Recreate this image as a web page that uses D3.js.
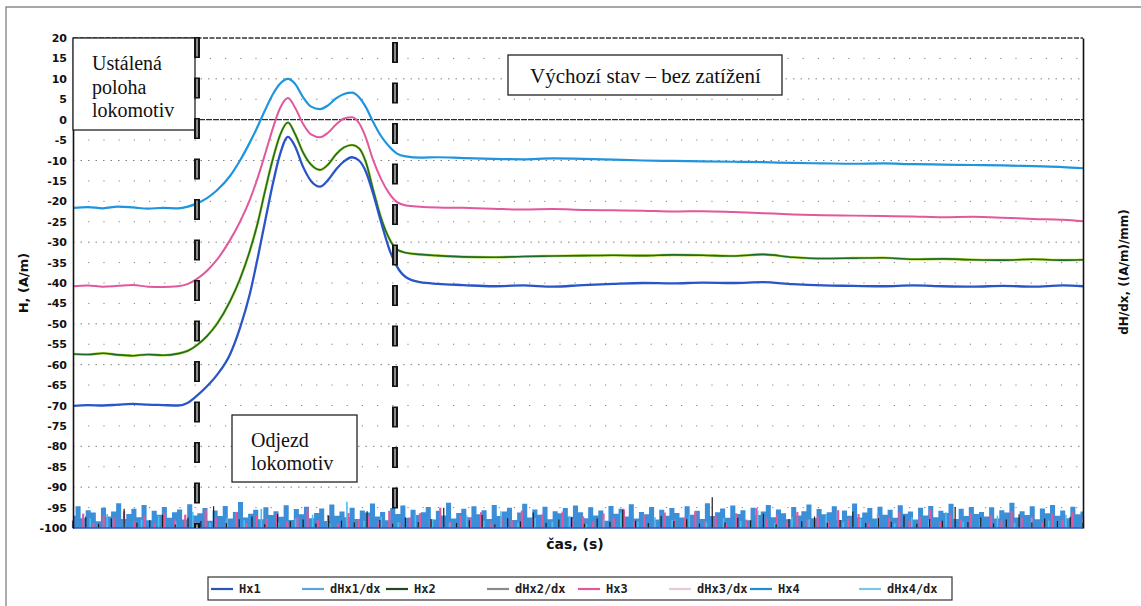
<!DOCTYPE html>
<html>
<head>
<meta charset="utf-8">
<script src="https://cdn.jsdelivr.net/npm/d3@7"></script>
<style>
  body { margin: 0; background: #fff; }
  svg { display: block; }
</style>
</head>
<body>
<svg id="chart" width="1141" height="606"></svg>
<script>
// Sample times (s) of the field measurements
const time = [0,1.5,3,4.5,6,7.5,9,10.5,11.5,12.4,13.4,14.4,15.7,16.7,17.7,18.5,19.2,20,20.7,21.5,
  22.2,23,23.8,24.7,25.5,26.3,27.1,27.9,28.6,29.3,30,30.8,31.6,32.4,33.3,34.7,36.5,39,42,45,
  48,51,54,57,60,63,66,69,72,75,78,81,84,87,90,93,96,99,101];

// Field intensity H (A/m) for each sensor
const hx1 = [-70.1,-69.9,-70.0,-69.8,-69.6,-69.8,-69.9,-70.0,-69.3,-67.6,-65.3,-62.5,-57.5,-51,-42.5,-33.5,-25,-15.5,-8.5,-4.2,
  -6.5,-11.5,-15,-16.4,-14.8,-12.2,-10.2,-9.2,-10.0,-12.8,-18,-25,-31.5,-36,-38.6,-39.8,-40.2,-40.5,-40.8,-40.6,
  -40.9,-40.5,-40.2,-40.0,-40.1,-39.9,-40.0,-39.8,-40.3,-40.6,-40.7,-40.8,-40.6,-40.8,-40.9,-40.7,-40.9,-40.6,-40.8];
const hx2 = [-57.4,-57.5,-57.2,-57.6,-57.8,-57.5,-57.7,-57.3,-56.6,-55.2,-53,-50,-44.5,-39,-32,-25,-17.5,-9.5,-3.8,-0.7,
  -3.5,-8,-11,-12.3,-11,-8.5,-6.8,-6.2,-7,-10.5,-17,-24,-29,-31.8,-32.6,-33,-33.3,-33.6,-33.7,-33.5,
  -33.4,-33.3,-33.2,-33.3,-33.1,-33.2,-33.4,-33.0,-33.7,-34.0,-33.9,-33.8,-34.2,-34.1,-34.3,-34.4,-34.2,-34.4,-34.3];
const hx3 = [-40.8,-40.6,-40.9,-40.7,-40.5,-40.9,-41.0,-40.8,-40.2,-39,-37,-34.3,-29.5,-25,-19.5,-14,-8.5,-2,2.8,5.3,
  3,-1,-3.6,-4.3,-3.2,-1.2,0.3,0.6,-0.8,-4.5,-9.8,-14.5,-18,-20.2,-21.0,-21.3,-21.5,-21.6,-21.8,-22.0,
  -21.9,-22.1,-22.2,-22.3,-22.5,-22.4,-22.6,-22.9,-23.2,-23.4,-23.5,-23.6,-23.7,-23.9,-23.8,-24.0,-24.3,-24.5,-24.9];
const hx4 = [-21.6,-21.4,-21.7,-21.3,-21.5,-21.8,-21.6,-21.7,-21.3,-20.5,-19.2,-17.3,-13.8,-10,-5.5,-1.5,2.3,6.3,8.8,10,
  8.8,5.5,3.2,2.6,3.5,5.2,6.3,6.6,5.5,3,-0.5,-4,-6.5,-8.3,-9.0,-9.3,-9.2,-9.4,-9.6,-9.7,
  -9.5,-9.6,-9.8,-10.0,-10.1,-10.2,-10.3,-10.4,-10.6,-10.7,-10.8,-10.7,-10.9,-11.0,-11.1,-11.2,-11.4,-11.6,-11.9];

// Gradient dH/dx ((A/m)/mm), evenly sampled over the whole record
const dHx1 = [.35,.62,.28,.51,.44,.19,.58,.33,.47,.71,.26,.40,.55,.31,.66,.22,.49,.38,.60,.29,
  .45,.53,.24,.68,.36,.42,.57,.21,.50,.34,.63,.27,.46,.74,.30,.41,.52,.25,.59,.37,
  .48,.32,.65,.23,.54,.39,.61,.28,.43,.56,.20,.67,.35,.47,.31,.58,.26,.50,.44,.70,
  .33,.46,.22,.57,.40,.64,.29,.52,.37,.45,.60,.24,.49,.36,.72,.27,.43,.55,.31,.62,
  .39,.51,.26,.66,.34,.47,.58,.23,.44,.69,.30,.53,.38,.61,.25,.48,.42,.57,.32,.64,
  .45,.28,.59,.36,.50,.21,.63,.41,.55,.33,.68,.27,.46,.39,.60,.24,.52,.35,.57,.43,
  .30,.62,.38,.49,.26,.71,.34,.45,.56,.29,.64,.40,.51,.22,.58,.37,.47,.66,.31,.53,
  .42,.25,.60,.36,.48,.67,.28,.54,.39,.45,.62,.23,.50,.35,.70,.30,.44,.57,.27,.61,
  .38,.52,.29,.65,.41,.47,.24,.58,.36,.63,.31,.49,.43,.69,.26,.55,.34,.60,.40,.46,
  .33,.59,.27,.51,.44,.72,.30,.48,.37,.62,.25,.56,.42,.66,.35,.50,.28,.61,.39,.47];
const dHx2 = [.18,.32,.12,.27,.55,.15,.22,.38,.10,.29,.20,.62,.14,.25,.33,.11,.40,.19,.24,.13,
  .35,.21,.16,.48,.23,.12,.30,.17,.26,.58,.14,.22,.37,.10,.28,.19,.44,.15,.24,.31,
  .12,.27,.18,.52,.21,.14,.34,.20,.25,.13,.88,.16,.29,.22,.41,.11,.26,.19,.33,.15,
  .23,.47,.14,.28,.18,.36,.12,.25,.21,.60,.17,.30,.13,.24,.39,.16,.27,.20,.32,.15];
const dHx3 = [.22,.41,.15,.36,.28,.48,.19,.33,.12,.44,.25,.38,.17,.52,.29,.21,.46,.14,.35,.27,
  .40,.18,.31,.55,.23,.37,.13,.43,.26,.34,.20,.49,.16,.30,.42,.24,.58,.19,.36,.28,
  .45,.15,.32,.22,.50,.27,.39,.14,.47,.25,.33,.18,.41,.29,.53,.21,.37,.16,.44,.26,
  .30,.48,.20,.35,.13,.42,.24,.57,.28,.38,.17,.46,.23,.34,.19,.51,.27,.40,.15,.36,
  .29,.45,.21,.32,.54,.18,.39,.25,.43,.14,.37,.22,.49,.28,.33,.16,.41,.24,.47,.30];
const dHx4 = [.15,.28,.40,.12,.24,.35,.18,.46,.14,.30,.22,.55,.16,.27,.38,.13,.75,.20,.33,.17,
  .42,.25,.14,.36,.21,.48,.15,.29,.19,.34,.12,.26,.44,.18,.31,.23,.39,.16,.28,.20,
  .50,.14,.32,.24,.37,.17,.27,.41,.13,.30,.22,.45,.18,.26,.35,.15,.29,.21,.38,.24];

// Axis ticks and event markers
const yTickValues = [20,15,10,5,0,-5,-10,-15,-20,-25,-30,-35,-40,-45,-50,-55,-60,-65,-70,-75,-80,-85,-90,-95,-100];
const denseGrid = [10,-10,-30,-50,-60,-80,-90];
const markerTimes = [12.4, 32.2];
const recordEnd = 101;

const legendNames = ["Hx1","dHx1/dx","Hx2","dHx2/dx","Hx3","dHx3/dx","Hx4","dHx4/dx"];
const legendColors = ["#2a55b8","#5aa6e2","#1f4a22","#8a8a8a","#e2589c","#e9c9d6","#1f8ad8","#7cc6ea"];

const svg = d3.select("#chart");
const W = 1141, H = 606;
const plotL = 73, plotR = 1083, plotT = 38, plotB = 528;

const x = d3.scaleLinear().domain([0, recordEnd]).range([plotL, plotR]);
const y = d3.scaleLinear().domain([-100, 20]).range([plotB, plotT]);
const yR = d3.scaleLinear().domain([0, 14]).range([plotB, plotT]);

// outer frame of the figure
svg.append("path")
  .attr("d", `M6,${H} L6,7 L${W},7`)
  .attr("fill", "none").attr("stroke", "#8a8a8a").attr("stroke-width", 1.4);

// dotted horizontal grid
svg.append("g").selectAll("line")
  .data(yTickValues.filter(v => v !== 20 && v !== 0 && v !== -100))
  .join("line")
  .attr("x1", plotL).attr("x2", plotR)
  .attr("y1", d => y(d)).attr("y2", d => y(d))
  .attr("stroke", "#808080").attr("stroke-width", 1)
  .attr("stroke-dasharray", d => denseGrid.includes(d) ? "1.5,6" : "1.2,14");

// top edge and zero line
svg.append("line").attr("x1", plotL).attr("x2", plotR).attr("y1", y(20)).attr("y2", y(20))
  .attr("stroke", "#333").attr("stroke-width", 1.6).attr("stroke-dasharray", "5,1.5");
svg.append("line").attr("x1", plotL).attr("x2", plotR).attr("y1", y(0)).attr("y2", y(0))
  .attr("stroke", "#2a2a2a").attr("stroke-width", 1.4).attr("stroke-dasharray", "6,1");

// gradient traces along the bottom (right axis)
function derivPoints(vals) {
  const step = recordEnd / (vals.length - 1);
  return vals.map((v, i) => [i * step, v]);
}
const dArea = d3.area().x(d => x(d[0])).y0(yR(0)).y1(d => yR(d[1])).curve(d3.curveStep);
function needles(vals, color, width) {
  svg.append("g").selectAll("line").data(derivPoints(vals)).join("line")
    .attr("x1", d => x(d[0])).attr("x2", d => x(d[0]))
    .attr("y1", yR(0)).attr("y2", d => yR(d[1]))
    .attr("stroke", color).attr("stroke-width", width);
}
svg.append("path").datum(derivPoints(dHx1))
  .attr("d", dArea).attr("fill", "#3b8fd8");
needles(dHx3, "#e2589c", 2.2);
needles(dHx4, "#4cc0ec", 1.6);
needles(dHx2, "#1e1e1e", 1.2);
svg.append("line").attr("x1", plotL).attr("x2", plotR).attr("y1", plotB).attr("y2", plotB)
  .attr("stroke", "#2a55b8").attr("stroke-width", 1.6);

// field traces
const fLine = d3.line().x((d, i) => x(time[i])).y(d => y(d)).curve(d3.curveMonotoneX);
svg.append("path").datum(hx4).attr("d", fLine)
  .attr("fill", "none").attr("stroke", "#1f95df").attr("stroke-width", 2.2);
svg.append("path").datum(hx3).attr("d", fLine)
  .attr("fill", "none").attr("stroke", "#e2589c").attr("stroke-width", 2);
svg.append("path").datum(hx2).attr("d", fLine)
  .attr("fill", "none").attr("stroke", "#b4d63a").attr("stroke-width", 2.6);
svg.append("path").datum(hx2).attr("d", fLine)
  .attr("fill", "none").attr("stroke", "#1f6b2a").attr("stroke-width", 1.6);
svg.append("path").datum(hx1).attr("d", fLine)
  .attr("fill", "none").attr("stroke", "#2a55c8").attr("stroke-width", 2.3);

// axes
const yAxis = svg.append("g").attr("transform", `translate(${plotL},0)`)
  .call(d3.axisLeft(y).tickValues(yTickValues).tickSize(0).tickPadding(6).tickFormat(d => String(d)));
yAxis.select(".domain").attr("stroke", "#111").attr("stroke-width", 1.6);
yAxis.selectAll("text")
  .attr("font-family", "DejaVu Sans, Verdana, sans-serif")
  .attr("font-size", 11).attr("font-weight", "bold").attr("fill", "#111");

const rAxis = svg.append("g").attr("transform", `translate(${plotR},0)`)
  .call(d3.axisRight(yR).tickValues([]).tickSizeOuter(0));
rAxis.select(".domain").attr("stroke", "#111").attr("stroke-width", 1.6);

// axis titles
svg.append("text")
  .attr("transform", "translate(28,283) rotate(-90)")
  .attr("text-anchor", "middle")
  .attr("font-family", "DejaVu Sans, Verdana, sans-serif")
  .attr("font-size", 13).attr("font-weight", "bold").attr("fill", "#111")
  .text("H, (A/m)");
svg.append("text")
  .attr("transform", "translate(1128,272) rotate(-90)")
  .attr("text-anchor", "middle")
  .attr("font-family", "DejaVu Sans, Verdana, sans-serif")
  .attr("font-size", 12).attr("font-weight", "bold").attr("fill", "#111")
  .text("dH/dx, ((A/m)/mm)");
svg.append("text")
  .attr("x", 575).attr("y", 549)
  .attr("text-anchor", "middle")
  .attr("font-family", "DejaVu Sans, Verdana, sans-serif")
  .attr("font-size", 14).attr("font-weight", "bold").attr("fill", "#111")
  .text("čas, (s)");

// annotation boxes
function noteBox(x0, y0, w, h, lines, tx, ty, lh, fs) {
  svg.append("rect").attr("x", x0).attr("y", y0).attr("width", w).attr("height", h)
    .attr("fill", "#fff").attr("stroke", "#222").attr("stroke-width", 1.3);
  const t = svg.append("text")
    .attr("font-family", "Liberation Serif, Times New Roman, serif")
    .attr("font-size", fs).attr("fill", "#111");
  lines.forEach((s, i) => t.append("tspan").attr("x", tx).attr("y", ty + i * lh).text(s));
}
noteBox(plotL, plotT, 122, 92, ["Ustálená", "poloha", "lokomotiv"], 92, 70, 23.5, 20);
noteBox(508, 55, 274, 40, ["Výchozí stav – bez zatížení"], 530, 83, 0, 21);
noteBox(232, 415, 125, 67, ["Odjezd", "lokomotiv"], 251, 447, 23, 20);

// event markers (thick dashed verticals)
const markerStart = [37, 42];
markerTimes.forEach((t, i) => {
  svg.append("line").attr("x1", x(t)).attr("x2", x(t)).attr("y1", markerStart[i]).attr("y2", plotB)
    .attr("stroke", "#151515").attr("stroke-width", 6).attr("stroke-dasharray", "21,19.5");
  svg.append("line").attr("x1", x(t)).attr("x2", x(t)).attr("y1", markerStart[i] + 1.5).attr("y2", plotB)
    .attr("stroke", "#8c8c8c").attr("stroke-width", 2).attr("stroke-dasharray", "18,22.5");
});

// legend
const lg = svg.append("g");
lg.append("rect").attr("x", 208).attr("y", 577).attr("width", 744).attr("height", 23)
  .attr("fill", "#fff").attr("stroke", "#333").attr("stroke-width", 1.2);
const legendTextX = [239, 330, 414, 515, 606, 697, 778, 887];
legendNames.forEach((name, i) => {
  const tx = legendTextX[i];
  lg.append("line").attr("x1", tx - 28).attr("x2", tx - 6).attr("y1", 589).attr("y2", 589)
    .attr("stroke", legendColors[i]).attr("stroke-width", 2.2);
  lg.append("text").attr("x", tx).attr("y", 593)
    .attr("font-family", "DejaVu Sans Mono, monospace")
    .attr("font-size", 12).attr("font-weight", "bold").attr("fill", "#222")
    .text(name);
});
</script>
</body>
</html>
